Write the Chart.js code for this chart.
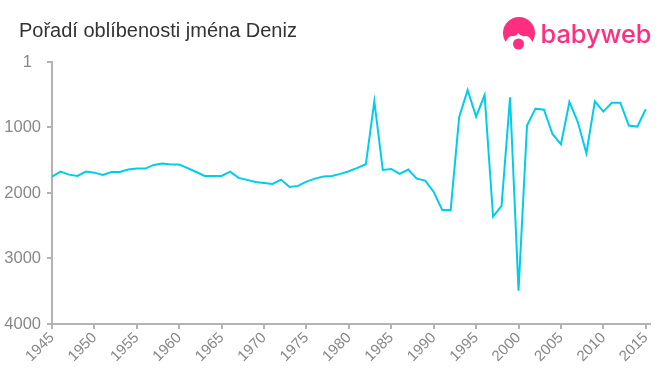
<!DOCTYPE html>
<html>
<head>
<meta charset="utf-8">
<title>Pořadí oblíbenosti jména Deniz</title>
<script src="https://cdn.jsdelivr.net/npm/chart.js@4"></script>
<style>
    html, body { margin: 0; padding: 0; background: #fff; }
    #box { position: relative; width: 660px; height: 375px; overflow: hidden; }
    #graf { position: absolute; left: 0; top: 0; }
    #nadpis { position: absolute; left: 19px; top: 19px; font: 20px/22px "Liberation Sans", Arial, sans-serif; color: #333; }
    #logo { position: absolute; left: 495px; top: 8px; }
</style>
</head>
<body>
<div id="box">
    <canvas id="graf" width="660" height="375"></canvas>
    <div id="nadpis">Pořadí oblíbenosti jména Deniz</div>
    <svg id="logo" width="165" height="50" viewBox="495 8 165 50">
        <circle cx="519" cy="33" r="16" fill="#ff2e7e"/>
        <path d="M505 44 Q508 35 513 36 Q516 37 518 33 Q521 37 525 36 Q530 35 533 44 L533 52 L505 52 Z" fill="#fff"/>
        <circle cx="518.5" cy="44" r="5.5" fill="#ff2e7e"/>
        <text x="540.5" y="43" font-family="Inter, sans-serif" font-weight="500" font-size="25" fill="#ff2e7e" textLength="111" lengthAdjust="spacingAndGlyphs">babyweb</text>
    </svg>
</div>
<script>
const roky = [1945,1946,1947,1948,1949,1950,1951,1952,1953,1954,1955,1956,1957,1958,1959,1960,1961,1962,1963,1964,1965,1966,1967,1968,1969,1970,1971,1972,1973,1974,1975,1976,1977,1978,1979,1980,1981,1982,1983,1984,1985,1986,1987,1988,1989,1990,1991,1992,1993,1994,1995,1996,1997,1998,1999,2000,2001,2002,2003,2004,2005,2006,2007,2008,2009,2010,2011,2012,2013,2014,2015];
const poradi = [1750,1674,1720,1740,1674,1690,1725,1680,1680,1643,1628,1628,1572,1552,1567,1567,1622,1680,1740,1740,1740,1674,1770,1800,1831,1847,1862,1796,1908,1892,1826,1781,1750,1740,1709,1668,1618,1562,600,1648,1633,1709,1643,1781,1811,1984,2259,2259,845,428,835,505,2361,2198,540,3490,972,713,729,1100,1257,611,921,1394,601,758,622,622,972,987,722];
const popiskyY = [1, 1000, 2000, 3000, 4000];

const seda = '#b3b3b3';

new Chart(document.getElementById('graf'), {
    type: 'line',
    data: {
        datasets: [{
            data: roky.map((r, i) => ({ x: r, y: poradi[i] })),
            borderColor: '#00cdea',
            borderWidth: 2,
            pointRadius: 0,
            tension: 0,
            clip: false
        }]
    },
    options: {
        responsive: false,
        animation: false,
        layout: { padding: { top: 62, right: 10, left: 0, bottom: 0 } },
        plugins: { legend: { display: false }, title: { display: false }, tooltip: { enabled: false } },
        scales: {
            x: {
                type: 'linear',
                min: 1945,
                max: 2015.5,
                afterFit: s => { s.height = 51; },
                afterBuildTicks: s => { s.ticks = roky.filter(r => r % 5 === 0).map(r => ({ value: r })); },
                border: { color: seda, width: 2 },
                grid: { drawOnChartArea: false, color: seda, lineWidth: 2, tickLength: 5 },
                ticks: {
                    autoSkip: false,
                    minRotation: 45,
                    maxRotation: 45,
                    padding: 0,
                    color: '#888',
                    font: { family: '"Liberation Sans", Arial, sans-serif', size: 15 },
                    callback: v => String(v)
                }
            },
            y: {
                type: 'linear',
                reverse: true,
                min: 1,
                max: 4000,
                afterFit: s => { s.width = 52; },
                afterBuildTicks: s => { s.ticks = popiskyY.map(v => ({ value: v })); },
                border: { color: seda, width: 2 },
                grid: { drawOnChartArea: false, color: seda, lineWidth: 2, tickLength: 5 },
                ticks: {
                    padding: 6,
                    color: '#888',
                    font: { family: '"Liberation Sans", Arial, sans-serif', size: 16.5 },
                    callback: v => v === 1 ? '1  ' : String(v)
                }
            }
        }
    }
});
</script>
</body>
</html>
